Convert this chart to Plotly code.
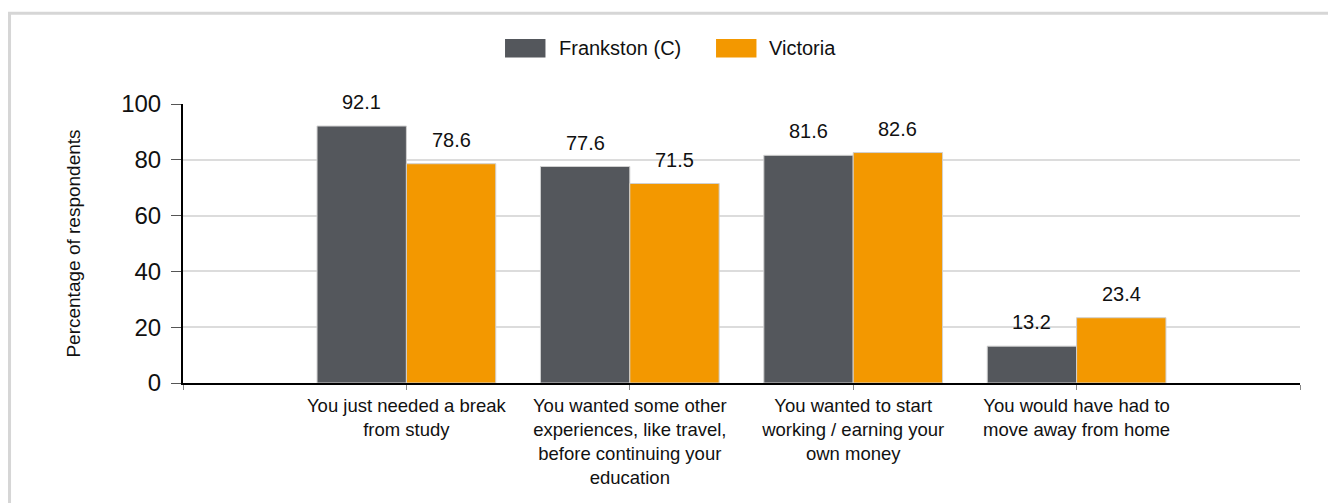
import plotly.graph_objects as go

# Chart data
categories = [
    "You just needed a break<br>from study",
    "You wanted some other<br>experiences, like travel,<br>before continuing your<br>education",
    "You wanted to start<br>working / earning your<br>own money",
    "You would have had to<br>move away from home",
]
frankston = [92.1, 77.6, 81.6, 13.2]
victoria = [78.6, 71.5, 82.6, 23.4]

series_names = ["Frankston (C)", "Victoria"]
colors = ["#54575c", "#f39800"]
font_family = "Liberation Sans, Arial, sans-serif"

x_pos = list(range(len(categories)))
bar_width = 0.4

fig = go.Figure()
annotations = []
for k, (name, vals, col) in enumerate(zip(series_names, [frankston, victoria], colors)):
    fig.add_trace(go.Bar(
        x=x_pos, y=vals, name=name,
        marker=dict(color=col, line=dict(color="#d0d0d0", width=1)),
        showlegend=False,
    ))
    # value labels sit a bit higher above the bars than plotly's default
    shift = (k - 0.5) * bar_width
    for xi, v in zip(x_pos, vals):
        annotations.append(dict(
            x=xi + shift, y=v, xref="x", yref="y", text=f"{v:.1f}",
            showarrow=False, yanchor="middle", yshift=24,
            font=dict(size=20, color="#111111", family=font_family),
        ))

# Hand-drawn legend (wide rectangular swatches like the original)
legend_items = [
    (series_names[0], colors[0], 0.2883, 0.3245, 0.3348),
    (series_names[1], colors[1], 0.4772, 0.5134, 0.5228),
]
shapes = []
for name, col, x0, x1, xt in legend_items:
    shapes.append(dict(type="rect", xref="paper", yref="paper",
                       x0=x0, x1=x1, y0=1.1667, y1=1.2330,
                       fillcolor=col, line=dict(width=0)))
    annotations.append(dict(text=name, xref="paper", yref="paper",
                            x=xt, y=1.2007, xanchor="left", yanchor="middle",
                            showarrow=False,
                            font=dict(size=20, color="#111111", family=font_family)))

# light frame around the whole chart
shapes.append(dict(type="rect", xref="paper", yref="paper",
                   x0=-0.1553, x1=1.2, y0=-0.6, y1=1.325,
                   line=dict(color="#d6d6d6", width=3), fillcolor="rgba(0,0,0,0)",
                   layer="below"))

fig.update_layout(
    width=1336, height=503,
    margin=dict(l=175, r=44, t=96, b=128),
    plot_bgcolor="white", paper_bgcolor="white",
    barmode="group", bargap=0.2, bargroupgap=0,
    font=dict(family=font_family, color="#111111"),
    shapes=shapes, annotations=annotations,
    showlegend=False,
)

fig.update_xaxes(
    range=[-1, len(categories)],
    tickmode="array",
    tickvals=[-1] + x_pos + [len(categories)],
    ticktext=[""] + categories + [""],
    tickfont=dict(size=18.5, color="#111111"),
    ticks="outside", ticklen=5, tickcolor="#888888", tickwidth=1,
    showline=True, linecolor="black", linewidth=2,
    showgrid=False, zeroline=False, fixedrange=True,
)

fig.update_yaxes(
    range=[0, 100], dtick=20,
    tickfont=dict(size=24, color="#111111"),
    ticks="outside", ticklen=10, tickcolor="#555555", tickwidth=1,
    ticklabelstandoff=5,
    showline=True, linecolor="black", linewidth=2,
    showgrid=True, gridcolor="#dcdcdc", gridwidth=2,
    zeroline=False,
    title=dict(text="Percentage of respondents", standoff=36,
               font=dict(size=19, color="#111111")),
)

fig.write_html("out.html")
